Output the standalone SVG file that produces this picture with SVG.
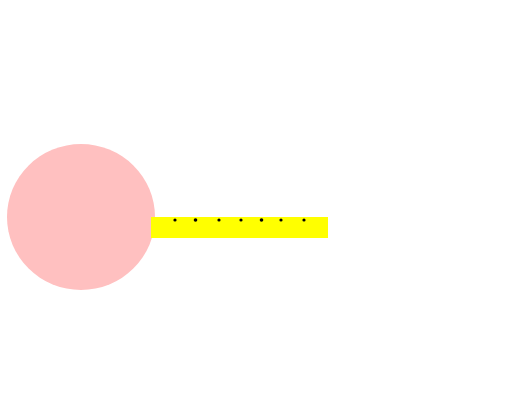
<svg xmlns="http://www.w3.org/2000/svg" width="510" height="420" viewBox="0 0 510 420">
<style>
.dot{fill:#000}
</style>
<rect width="510" height="420" fill="#fff"/>
<g id="circle"><ellipse cx="81" cy="217" rx="74" ry="73" fill="#ffc0c0"/></g>
<g id="bar"><rect x="151" y="217" width="177" height="21" fill="#ffff00"/></g>
<g id="dots">
<circle class="dot" cx="175" cy="220" r="1.6"/>
<circle class="dot" cx="195.5" cy="220" r="1.8"/>
<circle class="dot" cx="219" cy="220" r="1.6"/>
<circle class="dot" cx="241" cy="220" r="1.6"/>
<circle class="dot" cx="261.5" cy="220" r="1.8"/>
<circle class="dot" cx="281" cy="220" r="1.6"/>
<circle class="dot" cx="304" cy="220" r="1.6"/>
</g>
</svg>
